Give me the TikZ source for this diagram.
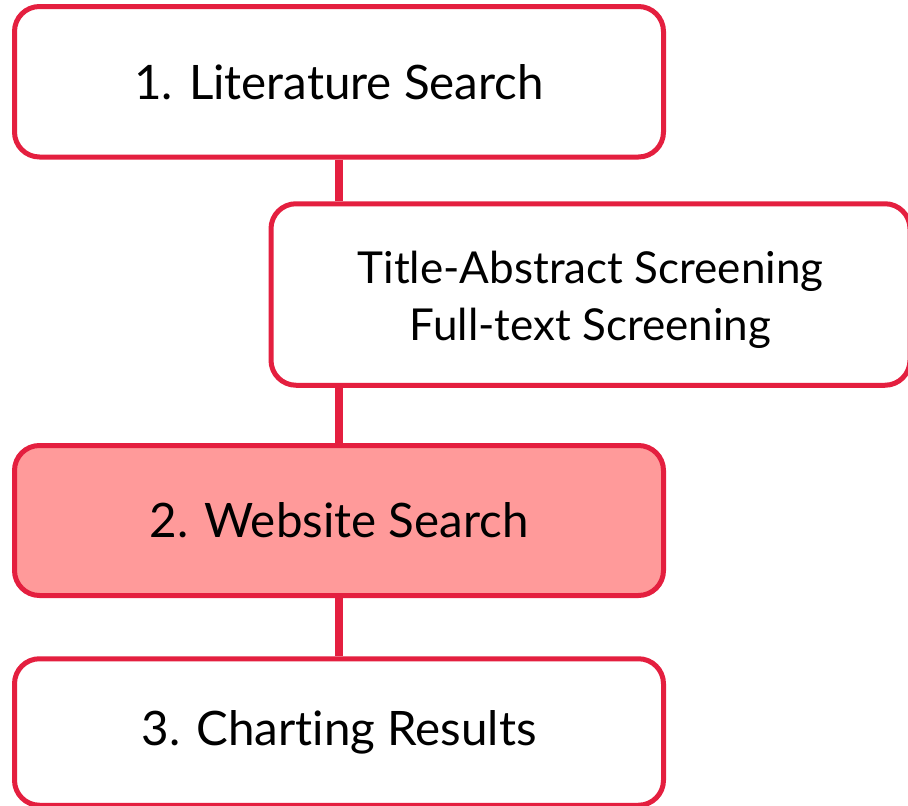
\documentclass[tikz,border=0pt]{standalone}
\usepackage{fontspec}
\setmainfont{Lato}[Ligatures=NoCommon]
\definecolor{boxred}{HTML}{E41F3F}
\definecolor{boxpink}{HTML}{FF9A9A}
\tikzset{
  x=1pt,y=-1pt,
  stepbox/.style={draw=boxred,line width=5pt,rounded corners=25pt,fill=white,
    minimum width=649pt,inner sep=0pt,align=center,font=\fontsize{47.5}{56}\selectfont},
  steptext/.style={inner sep=0pt,align=center,font=\fontsize{44}{57}\selectfont},
  link/.style={draw=boxred,line width=7.5pt},
}
\begin{document}
\begin{tikzpicture}
\useasboundingbox (0,0) rectangle (908,806);
\node[stepbox,minimum height=150.5pt] (lit) at (339,81.75) {1. Literature Search};
\node[stepbox,minimum width=639pt,minimum height=181.5pt] (scr) at (590.5,294.5) {};
\node[steptext] (scrtext) at ([yshift=-5pt]scr.center) {Title-Abstract Screening\\Full-text Screening};
\node[stepbox,fill=boxpink,minimum height=150pt] (web) at (339,520.5) {\raisebox{-3pt}{2. Website Search}};
\node[stepbox,minimum height=146.5pt] (cha) at (339,732) {\raisebox{-2pt}{3. Charting Results}};
\draw[link] (lit.south) -- (lit.south |- scr.north);
\draw[link] (lit.south |- scr.south) -- (web.north);
\draw[link] (web.south) -- (cha.north);
\end{tikzpicture}
\end{document}
